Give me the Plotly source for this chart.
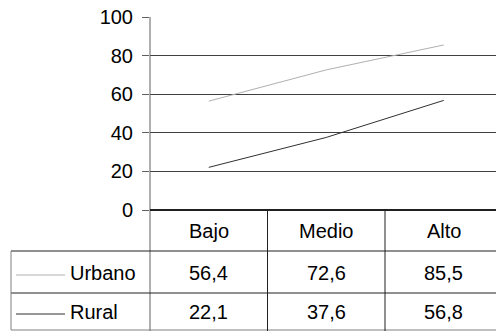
import plotly.graph_objects as go

categories = ["Bajo", "Medio", "Alto"]
series_names = ["Urbano", "Rural"]
urbano = [56.4, 72.6, 85.5]
rural = [22.1, 37.6, 56.8]
y_ticks = [0, 20, 40, 60, 80, 100]

W, H = 496, 331
FONT = "Liberation Sans, Arial, sans-serif"
FS = 20
colors = {"Urbano": "#b0b0b0", "Rural": "#303030"}
values = {"Urbano": urbano, "Rural": rural}

def px(x):
    return x / W

def py(y):
    return (H - y) / H

fig = go.Figure()
for name in series_names:
    fig.add_trace(go.Scatter(x=categories, y=values[name], mode="lines", name=name,
                             line=dict(color=colors[name], width=1), showlegend=False,
                             hoverinfo="skip"))

col_w = 117.5
plot_w = W - 150
x_range = [-0.5, -0.5 + plot_w / col_w]

shapes = []
line_dark = dict(color="#202020", width=1)
shapes.append(dict(type="line", xref="paper", yref="paper", x0=px(150), x1=px(150),
                   y0=py(17), y1=py(331), line=dict(color="#606060", width=1)))
shapes.append(dict(type="line", xref="paper", yref="paper", x0=px(150), x1=1,
                   y0=py(210), y1=py(210), line=dict(color="#202020", width=2)))
for yy, col in [(251, "#202020"), (293, "#202020"), (330, "#808080")]:
    shapes.append(dict(type="line", xref="paper", yref="paper", x0=px(11), x1=1,
                       y0=py(yy), y1=py(yy), line=dict(color=col, width=1)))
shapes.append(dict(type="line", xref="paper", yref="paper", x0=px(11), x1=px(11),
                   y0=py(251), y1=py(330), line=dict(color="#808080", width=1)))
for i in range(1, len(categories)):
    shapes.append(dict(type="line", xref="x", yref="paper", x0=i - 0.5, x1=i - 0.5,
                       y0=py(210), y1=py(331), line=line_dark))

annotations = []
for c in categories:
    annotations.append(dict(x=c, xref="x", y=py(230.5), yref="paper", text=c,
                            showarrow=False, font=dict(family=FONT, size=FS, color="black"),
                            xanchor="center", yanchor="middle"))
row_y = {"Urbano": 272.5, "Rural": 311.5}
for name in series_names:
    yy = row_y[name]
    shapes.append(dict(type="line", xref="paper", yref="paper", x0=px(16), x1=px(65),
                       y0=py(yy + 2.5), y1=py(yy + 2.5),
                       line=dict(color=colors[name], width=1)))
    annotations.append(dict(x=px(68), xref="paper", y=py(yy), yref="paper", text=name,
                            showarrow=False, font=dict(family=FONT, size=FS, color="black"),
                            xanchor="left", yanchor="middle"))
    for c, v in zip(categories, values[name]):
        annotations.append(dict(x=c, xref="x", y=py(yy), yref="paper",
                                text=f"{v:.1f}".replace(".", ","), showarrow=False,
                                font=dict(family=FONT, size=FS, color="black"),
                                xanchor="center", yanchor="middle"))

fig.update_layout(
    width=W, height=H,
    margin=dict(l=0, r=0, t=0, b=0, pad=0),
    paper_bgcolor="white", plot_bgcolor="white",
    showlegend=False,
    hovermode=False,
    font=dict(family=FONT, size=FS, color="black"),
    xaxis=dict(domain=[px(150), 1], range=x_range, type="category", automargin=False,
               showticklabels=False, showgrid=False, zeroline=False, showline=False,
               ticks=""),
    yaxis=dict(domain=[py(210), py(17)], range=[0, 100], tickvals=y_ticks,
               ticktext=[str(t) for t in y_ticks], automargin=False,
               showgrid=True, gridcolor="#404040", gridwidth=1,
               zeroline=False, showline=False,
               ticks="outside", ticklen=7, tickcolor="#606060", tickwidth=1,
               ticklabelstandoff=5,
               tickfont=dict(family=FONT, size=FS, color="black")),
    shapes=shapes,
    annotations=annotations,
)

fig.write_html("out.html", config={"displayModeBar": False})
